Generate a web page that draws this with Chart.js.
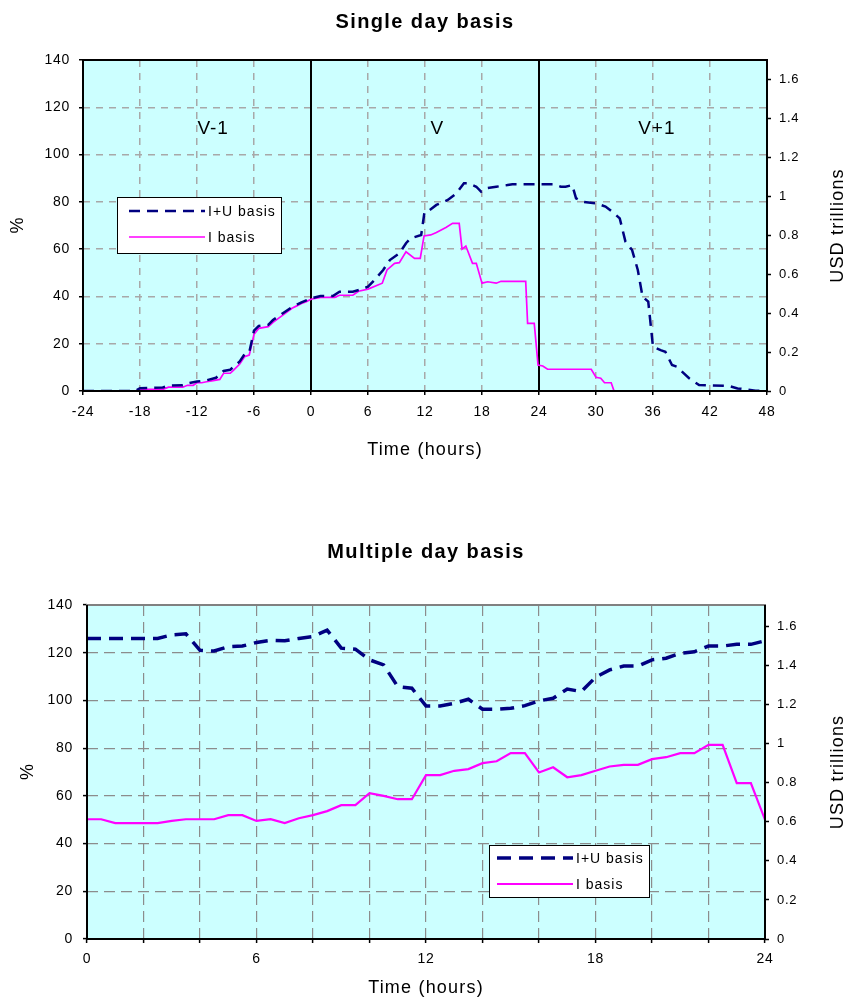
<!DOCTYPE html>
<html>
<head>
<meta charset="utf-8">
<script src="https://cdn.jsdelivr.net/npm/chart.js@4.4.0/dist/chart.umd.min.js"></script>
<style>
  html, body { margin: 0; padding: 0; background: #fff; }
  .wrap { position: absolute; left: 0; width: 845px; }
  #topWrap { top: 0; height: 480px; }
  #bottomWrap { top: 500px; height: 506px; }
  canvas { display: block; }
</style>
</head>
<body>
<div class="wrap" id="topWrap"><canvas id="singleDayChart" width="845" height="480"></canvas></div>
<div class="wrap" id="bottomWrap"><canvas id="multiDayChart" width="845" height="506"></canvas></div>
<script>
/**
 * Settlement exposure - single vs multiple day basis
 */

const seriesNames = ['I+U basis', 'I basis'];

// Single day basis (hours relative to value day)
const singleIUHours = [-24, -18.5, -18, -15.6, -15, -13.5, -13, -12, -11, -10, -9.2, -8.5, -7.5, -7, -6.5, -6, -5.5, -4.5, -4, -3, -2, -1, 0, 1, 2.3, 3, 4.4, 5.3, 6, 6.7, 7.6, 8.3, 9.3, 10, 10.5, 11.6, 11.95, 12.5, 13.2, 14.4, 15.3, 16.1, 16.5, 17.4, 17.9, 18.4, 19.5, 20.7, 21.2, 25.6, 26.3, 26.8, 27.5, 27.9, 28.6, 30, 31, 31.9, 32.5, 33.1, 33.8, 34.4, 34.9, 35.5, 36, 36.8, 37.3, 38, 38.5, 39.8, 40.85, 44, 44.9, 45.8, 46.8, 48];
const singleIU = [0, 0, 1.2, 1.5, 2.3, 2.4, 3.2, 4, 4.5, 5.6, 8.5, 9, 12.5, 15.5, 16.3, 25.5, 27.5, 28, 30, 32.8, 35.5, 37.5, 39.2, 40.2, 40.2, 42, 42, 43, 44.1, 47, 51.2, 55.4, 58.2, 62.5, 64.6, 66, 75.8, 76.6, 78.7, 80.8, 83.6, 87.9, 87.9, 86.4, 84.3, 85.7, 86.4, 87.1, 87.4, 87.4, 86.4, 86.4, 87.1, 81.5, 80, 79.4, 78, 75.2, 73, 63.2, 59.6, 51.2, 39.9, 37.8, 18.7, 17.3, 16.6, 11, 10.3, 5.4, 2.5, 2.1, 1.1, 0.7, 0.1, 0];

const singleIHours = [-24, -18.5, -18, -15.6, -15, -13.5, -13, -12.4, -12, -11.5, -11, -10.3, -9.6, -9.2, -8.5, -8.2, -7.5, -7, -6.5, -6, -5.5, -4.5, -4, -3.5, -3, -2.5, -2, -1.5, -1, -0.5, 0, 1, 2.5, 3, 4.4, 5, 6, 7.5, 8, 8.8, 9.3, 10, 10.9, 11.5, 11.9, 12.6, 13.2, 14.2, 14.9, 15.6, 15.9, 16.3, 17, 17.4, 18, 18.6, 19.5, 20, 22.6, 22.8, 23.5, 23.9, 24.4, 24.9, 29.5, 30, 30.5, 30.9, 31.6, 31.9, 48];
const singleI = [0, 0, 0.7, 0.7, 1.6, 1.6, 2.4, 2.4, 3.5, 3.5, 3.9, 4.4, 4.9, 7.5, 7.5, 8.6, 11.4, 14.5, 15.2, 24, 26.5, 27.2, 29, 30.5, 32, 33.5, 35, 36, 37, 37.8, 38.8, 39.6, 39.6, 40.5, 40.5, 42.2, 43.1, 45.6, 51.2, 54, 54.3, 58.9, 56.1, 56.1, 65.6, 66, 67, 69.2, 70.9, 70.9, 60, 61.3, 54, 54, 45.6, 46.2, 45.6, 46.4, 46.4, 28.6, 28.6, 11, 10.6, 9.2, 9.2, 5.8, 5.4, 3.5, 3.5, 0, 0];

const dayBoundaries = [0, 24];
const periodLabels = ['V-1', 'V', 'V+1'];
const periodLabelHours = [-10.3, 13.3, 36.4];
const periodLabelLevel = 111;

// Multiple day basis
const multiHours = [0, 0.5, 1, 1.5, 2, 2.5, 3, 3.5, 4, 4.5, 5, 5.5, 6, 6.5, 7, 7.5, 8, 8.5, 9, 9.5, 10, 10.5, 11, 11.5, 12, 12.5, 13, 13.5, 14, 14.5, 15, 15.5, 16, 16.5, 17, 17.5, 18, 18.5, 19, 19.5, 20, 20.5, 21, 21.5, 22, 22.5, 23, 23.5, 24];
const multiIU = [126, 126, 126, 126, 126, 126, 127.5, 127.9, 121, 120.7, 122.5, 122.8, 124.3, 125.2, 125, 126, 126.8, 129.5, 121.9, 121.5, 117, 114.9, 105.8, 105.1, 97.7, 97.7, 98.8, 100.5, 96.3, 96.3, 96.7, 97.8, 99.8, 100.9, 104.8, 103.7, 109.7, 112.8, 114.4, 114.4, 117, 117.7, 119.8, 120.4, 122.8, 122.8, 123.5, 123.5, 125];
const multiI = [50.2, 50.2, 48.6, 48.6, 48.6, 48.6, 49.5, 50.2, 50.2, 50.2, 51.9, 51.9, 49.5, 50.2, 48.6, 50.6, 51.9, 53.6, 56.1, 56.1, 61.1, 60, 58.6, 58.6, 68.7, 68.7, 70.5, 71.2, 73.7, 74.5, 77.9, 77.9, 69.8, 72, 67.8, 68.7, 70.5, 72.3, 73, 73, 75.4, 76.2, 77.9, 77.9, 81.4, 81.4, 65.3, 65.3, 50];

// Axis ranges
const pctMax = 140;
const usdMaxSingle = 1.7;
const usdMaxMulti = 1.71;

const NAVY = '#000080';
const MAGENTA = '#ff00ff';
const FONT = "'Liberation Sans', Arial, sans-serif";

Chart.defaults.font.family = FONT;
Chart.defaults.color = '#000';

function toPoints(xs, ys) {
  return xs.map((x, i) => ({ x, y: ys[i] }));
}

const fmt = v => String(Math.round(v * 10) / 10);

function drawText(ctx, text, x, y, font, spacing, rot) {
  ctx.save();
  ctx.font = font;
  ctx.letterSpacing = spacing;
  ctx.fillStyle = '#000';
  ctx.textAlign = 'center';
  ctx.textBaseline = 'middle';
  ctx.translate(x, y);
  if (rot) ctx.rotate(rot);
  ctx.fillText(text, 0, 0);
  ctx.restore();
}

const plotStyle = {
  id: 'plotStyle',
  beforeDraw(chart, args, opts) {
    const { ctx, chartArea: a } = chart;
    ctx.save();
    ctx.fillStyle = '#ccffff';
    ctx.fillRect(a.left, a.top, a.right - a.left, a.bottom - a.top);
    ctx.restore();
    ctx.letterSpacing = '0.7px';
  },
  afterDraw(chart, args, opts) {
    const { ctx, chartArea: a } = chart;
    const midX = (a.left + a.right) / 2;
    const midY = (a.top + a.bottom) / 2;
    ctx.save();
    ctx.lineWidth = 2;
    // frame
    const side = (c, x1, y1, x2, y2) => {
      ctx.strokeStyle = c;
      ctx.beginPath(); ctx.moveTo(x1, y1); ctx.lineTo(x2, y2); ctx.stroke();
    };
    side(opts.topColor, a.left - 1, a.top, a.right + 1, a.top);
    side('#000', a.left, a.top, a.left, a.bottom + 1);
    side('#000', a.left - 1, a.bottom, a.right + 1, a.bottom);
    side('#000', a.right, a.top, a.right, a.bottom + 1);

    // period labels
    if (opts.periods) {
      const y = chart.scales.y.getPixelForValue(periodLabelLevel);
      periodLabels.forEach((t, i) => {
        drawText(ctx, t, chart.scales.x.getPixelForValue(periodLabelHours[i]), y, '19px ' + FONT, '1px');
      });
    }

    // legend box
    const b = opts.legend;
    ctx.fillStyle = '#fff';
    ctx.fillRect(b.x, b.y, b.w, b.h);
    ctx.strokeStyle = '#000';
    ctx.lineWidth = 1;
    ctx.strokeRect(b.x + 0.5, b.y + 0.5, b.w, b.h);
    const ds = chart.data.datasets;
    [0, 1].forEach(i => {
      const y = b.rowY[i];
      ctx.strokeStyle = ds[i].borderColor;
      ctx.lineWidth = ds[i].borderWidth;
      ctx.setLineDash(ds[i].borderDash || []);
      ctx.beginPath(); ctx.moveTo(b.lineX1, y); ctx.lineTo(b.lineX2, y); ctx.stroke();
      ctx.setLineDash([]);
      ctx.font = '14px ' + FONT;
      ctx.letterSpacing = '1px';
      ctx.fillStyle = '#000';
      ctx.textAlign = 'left';
      ctx.textBaseline = 'middle';
      ctx.fillText(seriesNames[i], b.lineX2 + 3, y + 1);
    });
    ctx.restore();

    // titles
    drawText(ctx, opts.title, midX, opts.titleY, 'bold 20px ' + FONT, '1.4px');
    drawText(ctx, 'Time (hours)', midX, opts.xTitleY, '18px ' + FONT, '1.2px');
    drawText(ctx, '%', opts.yTitleX, midY, '18px ' + FONT, '0px', -Math.PI / 2);
    drawText(ctx, 'USD trillions', opts.rightTitleX, midY, '18px ' + FONT, '1.2px', -Math.PI / 2);
  }
};

function makeScales(cfg) {
  const gridBase = {
    color: cfg.gridColor,
    lineWidth: cfg.gridWidth,
    borderDash: cfg.gridDash,
    tickLength: 4,
    tickColor: '#000',
    tickWidth: 1.5,
    tickBorderDash: []
  };
  return {
    x: {
      type: 'linear',
      min: cfg.xMin,
      max: cfg.xMax,
      afterFit: s => { s.height = cfg.xHeight; },
      ticks: {
        stepSize: cfg.xStep,
        autoSkip: false,
        maxRotation: 0,
        padding: cfg.xPad,
        font: { size: 14 },
        color: '#000',
        callback: v => (v % cfg.xLabelEvery === 0 ? String(v) : '')
      },
      grid: gridBase,
      border: { display: false, dash: cfg.gridDash }
    },
    y: {
      position: 'left',
      min: 0,
      max: pctMax,
      afterFit: s => { s.width = cfg.yWidth; },
      ticks: { stepSize: 20, padding: cfg.yPad, font: { size: 14 }, color: '#000', callback: fmt },
      grid: gridBase,
      border: { display: false, dash: cfg.gridDash }
    },
    y2: {
      position: 'right',
      min: 0,
      max: cfg.usdMax,
      afterFit: s => { s.width = cfg.y2Width; },
      afterBuildTicks: s => { s.ticks = s.ticks.filter(t => t.value <= 1.6 + 1e-9); },
      ticks: { stepSize: 0.2, padding: 8, font: { size: 13 }, color: '#000', callback: fmt },
      grid: { drawOnChartArea: false, tickLength: 4, tickColor: '#000', tickWidth: 1.5, tickBorderDash: [] },
      border: { display: false }
    }
  };
}

// ---- Single day basis ----
const boundaryDatasets = dayBoundaries.map(h => ({
  data: [{ x: h, y: 0 }, { x: h, y: pctMax }],
  borderColor: '#000',
  borderWidth: 2,
  pointRadius: 0
}));

new Chart(document.getElementById('singleDayChart'), {
  type: 'line',
  data: {
    datasets: [
      {
        label: seriesNames[0],
        data: toPoints(singleIUHours, singleIU),
        borderColor: NAVY,
        borderWidth: 2.5,
        borderDash: [11, 7],
        pointRadius: 0
      },
      {
        label: seriesNames[1],
        data: toPoints(singleIHours, singleI),
        borderColor: MAGENTA,
        borderWidth: 1.7,
        pointRadius: 0
      },
      ...boundaryDatasets
    ]
  },
  options: {
    responsive: false,
    animation: false,
    events: [],
    layout: { padding: { top: 60, left: 0, right: 0, bottom: 0 } },
    scales: makeScales({
      xMin: -24, xMax: 48, xStep: 6, xLabelEvery: 6,
      xHeight: 89, xPad: 9,
      yWidth: 83, yPad: 9,
      y2Width: 78, usdMax: usdMaxSingle,
      gridColor: '#a8a8a8', gridWidth: 1.5, gridDash: [7, 6]
    }),
    plugins: {
      legend: { display: false },
      tooltip: { enabled: false },
      title: { display: false },
      plotStyle: {
        title: 'Single day basis',
        titleY: 22,
        xTitleY: 450,
        yTitleX: 18,
        rightTitleX: 838,
        topColor: '#000',
        periods: true,
        legend: { x: 117, y: 197, w: 164, h: 56, lineX1: 129, lineX2: 205, rowY: [211, 237] }
      }
    }
  },
  plugins: [plotStyle]
});

// ---- Multiple day basis ----
new Chart(document.getElementById('multiDayChart'), {
  type: 'line',
  data: {
    datasets: [
      {
        label: seriesNames[0],
        data: toPoints(multiHours, multiIU),
        borderColor: NAVY,
        borderWidth: 3.5,
        borderDash: [14, 8],
        pointRadius: 0
      },
      {
        label: seriesNames[1],
        data: toPoints(multiHours, multiI),
        borderColor: MAGENTA,
        borderWidth: 2.2,
        pointRadius: 0
      }
    ]
  },
  options: {
    responsive: false,
    animation: false,
    events: [],
    layout: { padding: { top: 105, left: 0, right: 0, bottom: 0 } },
    scales: makeScales({
      xMin: 0, xMax: 24, xStep: 2, xLabelEvery: 6,
      xHeight: 67, xPad: 8,
      yWidth: 87, yPad: 10,
      y2Width: 80, usdMax: usdMaxMulti,
      gridColor: '#8c8c8c', gridWidth: 1.2, gridDash: [11, 6]
    }),
    plugins: {
      legend: { display: false },
      tooltip: { enabled: false },
      title: { display: false },
      plotStyle: {
        title: 'Multiple day basis',
        titleY: 52,
        xTitleY: 488,
        yTitleX: 28,
        rightTitleX: 838,
        topColor: '#808080',
        periods: false,
        legend: { x: 489, y: 345, w: 160, h: 52, lineX1: 497, lineX2: 573, rowY: [358, 384] }
      }
    }
  },
  plugins: [plotStyle]
});
</script>
</body>
</html>
